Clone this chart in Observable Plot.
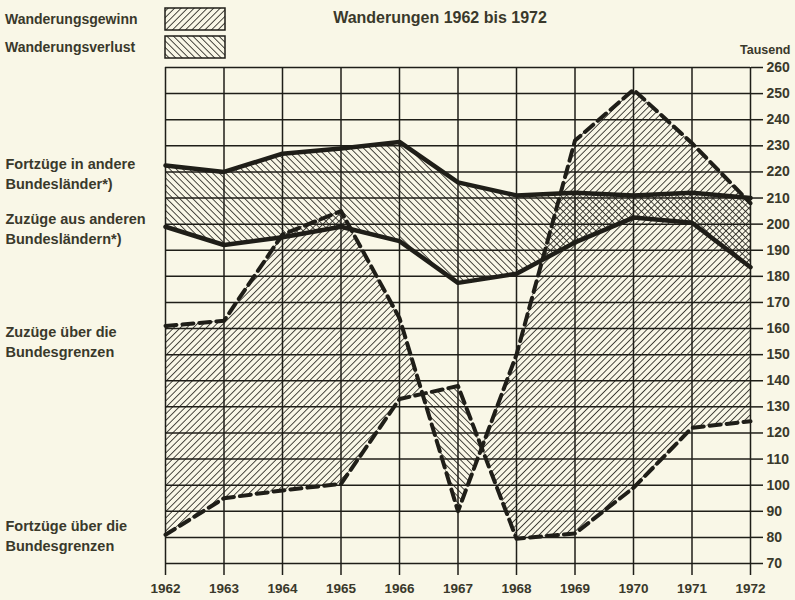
<!DOCTYPE html>
<html><head><meta charset="utf-8">
<script src="https://cdn.jsdelivr.net/npm/d3@7"></script>
<script src="https://cdn.jsdelivr.net/npm/@observablehq/plot@0.6"></script>
<style>
html,body{margin:0;padding:0;background:#f9f7e7;}
#chart{position:relative;width:795px;height:600px;}
svg{display:block;}
</style></head><body><div id="chart"></div>
<script>
// ---- data (Tausend) ----
const years = [1962, 1963, 1964, 1965, 1966, 1967, 1968, 1969, 1970, 1971, 1972];
const fortzuegeAndereLaender = [222.5, 220, 227, 229, 231.5, 216, 211, 212, 211, 212, 210];
const zuzuegeAndereLaender   = [199, 192, 195, 199, 193.5, 177.5, 181, 193, 202.5, 200.5, 183.5];
const zuzuegeBundesgrenzen   = [161, 163, 196, 205, 164, 90, 150, 232, 251.5, 231, 208];
const fortzuegeBundesgrenzen = [81, 95, 98, 100.5, 133, 138, 79.5, 81.5, 99, 122, 124.5];
const yTickValues = [70, 80, 90, 100, 110, 120, 130, 140, 150, 160, 170, 180, 190, 200, 210, 220, 230, 240, 250, 260];
const legendLabels = ["Wanderungsgewinn", "Wanderungsverlust"];
const titleText = "Wanderungen 1962 bis 1972";
const unitText = "Tausend";

const ink = "#1f1e18";
const textCol = "#3a392b";

// rows with crossing points so that gain/loss areas split cleanly
function withCrossings(zu, fort) {
  const out = [];
  for (let i = 0; i < years.length; i++) {
    out.push({year: years[i], zu: zu[i], fort: fort[i]});
    if (i < years.length - 1) {
      const d0 = zu[i] - fort[i], d1 = zu[i + 1] - fort[i + 1];
      if (d0 * d1 < 0) {
        const t = d0 / (d0 - d1);
        const v = zu[i] + t * (zu[i + 1] - zu[i]);
        out.push({year: years[i] + t * (years[i + 1] - years[i]), zu: v, fort: v});
      }
    }
  }
  return out;
}
const grenz = withCrossings(zuzuegeBundesgrenzen, fortzuegeBundesgrenzen);
const andere = withCrossings(zuzuegeAndereLaender, fortzuegeAndereLaender);
const rows = years.map((year, i) => ({
  year,
  fa: fortzuegeAndereLaender[i], za: zuzuegeAndereLaender[i],
  zg: zuzuegeBundesgrenzen[i], fg: fortzuegeBundesgrenzen[i]
}));

const maxZF = d => Math.max(d.zu, d.fort);
const labelStyle = {textAnchor: "start", lineAnchor: "middle", fontSize: 14.5, fontWeight: "bold", fill: textCol, lineHeight: 1.38, dx: -160};

const plot = Plot.plot({
  width: 795, height: 600,
  marginLeft: 165, marginRight: 45, marginTop: 67, marginBottom: 37,
  x: {domain: [1962, 1972]},
  y: {domain: [70, 260]},
  style: {background: "transparent", fontFamily: "'Liberation Sans', Arial, sans-serif", fontSize: "13px", color: ink, overflow: "visible"},
  marks: [
    // gain (Zuzüge > Fortzüge) and loss areas
    Plot.areaY(grenz, {x: "year", y1: "fort", y2: maxZF, fill: "url(#gewinn)"}),
    Plot.areaY(grenz, {x: "year", y1: "zu", y2: maxZF, fill: "url(#verlust)"}),
    Plot.areaY(andere, {x: "year", y1: "fort", y2: maxZF, fill: "url(#gewinn)"}),
    Plot.areaY(andere, {x: "year", y1: "zu", y2: maxZF, fill: "url(#verlust)"}),
    // grid
    Plot.gridX(years, {stroke: ink, strokeOpacity: 1, strokeWidth: 1.5}),
    Plot.gridY(yTickValues, {stroke: ink, strokeOpacity: 1, strokeWidth: 1.5}),
    Plot.axisX(years, {tickSize: 12, tickPadding: 8, strokeWidth: 1.5, tickFormat: d => String(d), fontWeight: "bold", fontSize: 13.5, fill: textCol, label: null}),
    Plot.axisY(yTickValues, {anchor: "right", tickSize: 12, tickPadding: 4, strokeWidth: 1.5, fontWeight: "bold", fontSize: 14, fill: textCol, label: null}),
    // lines
    Plot.line(rows, {x: "year", y: "fa", stroke: ink, strokeWidth: 4.5, strokeLinejoin: "round"}),
    Plot.line(rows, {x: "year", y: "za", stroke: ink, strokeWidth: 4.5, strokeLinejoin: "round"}),
    Plot.line(rows, {x: "year", y: "zg", stroke: ink, strokeWidth: 4, strokeDasharray: "11,6"}),
    Plot.line(rows, {x: "year", y: "fg", stroke: ink, strokeWidth: 4, strokeDasharray: "11,6"}),
    // series labels at the left
    Plot.text([rows[0]], {x: "year", y: "fa", text: () => "Fortzüge in andere\nBundesländer*)", dy: 7, ...labelStyle}),
    Plot.text([rows[0]], {x: "year", y: "za", text: () => "Zuzüge aus anderen\nBundesländern*)", dy: 1, ...labelStyle}),
    Plot.text([rows[0]], {x: "year", y: "zg", text: () => "Zuzüge über die\nBundesgrenzen", dy: 15, ...labelStyle}),
    Plot.text([rows[0]], {x: "year", y: "fg", text: () => "Fortzüge über die\nBundesgrenzen", dy: 0, ...labelStyle}),
    // unit
    Plot.text([unitText], {frameAnchor: "top-right", text: d => d, dx: 40, dy: -22, textAnchor: "end", fontSize: 12.5, fontWeight: "bold", fill: textCol}),
    // title
    Plot.text([titleText], {frameAnchor: "top", text: d => d, dx: -18, dy: -45, fontSize: 16, fontWeight: "bold", fill: textCol, lineAnchor: "bottom"})
  ]
});

const svg = d3.select(plot);
const defs = svg.insert("defs", ":first-child");
function hatch(id, angle) {
  const p = defs.append("pattern").attr("id", id).attr("patternUnits", "userSpaceOnUse")
    .attr("width", 4.6).attr("height", 4.6).attr("patternTransform", `rotate(${angle})`);
  p.append("line").attr("x1", 0).attr("y1", -1).attr("x2", 0).attr("y2", 6)
    .attr("stroke", ink).attr("stroke-width", 1.6);
}
hatch("gewinn", 45);
hatch("verlust", -45);

// legend
const lg = svg.append("g").attr("font-family", "'Liberation Sans', Arial, sans-serif").attr("text-anchor", "start");
legendLabels.forEach((lab, i) => {
  const y0 = 8 + i * 28;
  lg.append("rect").attr("x", 165).attr("y", y0).attr("width", 60).attr("height", 22)
    .attr("fill", i === 0 ? "url(#gewinn)" : "url(#verlust)").attr("stroke", ink).attr("stroke-width", 1.5);
  lg.append("text").attr("x", 5).attr("y", y0 + 11).attr("dy", "0.35em").attr("text-anchor", "start")
    .attr("font-size", 14).attr("font-weight", "bold").attr("fill", textCol).text(lab);
});

document.getElementById("chart").appendChild(plot);
</script>
</body></html>
